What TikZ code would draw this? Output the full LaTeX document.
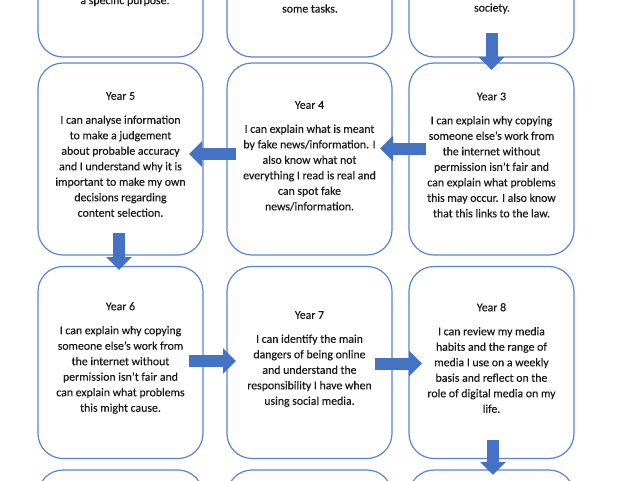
\documentclass[tikz,border=0pt]{standalone}
\usepackage{fontspec}
\setmainfont{Carlito}[FakeBold=0.3]
\usetikzlibrary{arrows.meta}
\definecolor{boxblue}{HTML}{5B84D6}
\definecolor{arrblue}{HTML}{4472C4}
\definecolor{txt}{HTML}{1A1A1A}
\begin{document}
\begin{tikzpicture}[x=1pt,y=-1pt,
  card/.style={draw=boxblue, line width=1.2pt, rounded corners=25pt, fill=white,
    minimum width=165pt, minimum height=192pt, inner sep=0pt},
  words/.style={text=txt, align=center, inner sep=0pt,
    font=\fontsize{11.8}{15.5}\selectfont},
  barrow/.style={draw=arrblue, line width=12pt,
    -{Triangle[length=13pt,width=25pt]}}]
\clip (0,0) rectangle (640,480);
\fill[white] (0,0) rectangle (640,480);
% row 1 (cut off)
\node[card] (y0) at (120.5,-39) {};
\node[card] (y1) at (309.5,-39) {};
\node[card] (y2) at (491.5,-39) {};
\node[words] (t0) at (125,1) {a specific purpose.};
\node[words] (t1) at (310,8.5) {some tasks.};
\node[words] (t2) at (492,8.5) {society.};
% row 2
\node[card] (y5) at (120.5,159) {};
\node[card] (y4) at (309.5,159) {};
\node[card] (y3) at (491.5,159) {};
\node[words] (t5) at (120.5,154.5) {Year 5\\[8.5pt]
  I can analyse information\\ to make a judgement\\ about probable accuracy\\
  and I understand why it is\\ important to make my own\\ decisions regarding\\
  content selection.};
\node[words] (t4) at (309.5,156) {Year 4\\[8.5pt]
  I can explain what is meant\\ by fake news/information. I\\ also know what not\\
  everything I read is real and\\ can spot fake\\ news/information.};
\node[words] (t3) at (491.5,155) {Year 3\\[8.5pt]
  I can explain why copying\\ someone else’s work from\\ the internet without\\
  permission isn’t fair and\\ can explain what problems\\ this may occur. I also know\\
  that this links to the law.};
% row 3
\node[card] (y6) at (120.5,362.5) {};
\node[card] (y7) at (309.5,362.5) {};
\node[card] (y8) at (491.5,362.5) {};
\node[words] (t6) at (120.5,358) {Year 6\\[8.5pt]
  I can explain why copying\\ someone else’s work from\\ the internet without\\
  permission isn’t fair and\\ can explain what problems\\ this might cause.};
\node[words] (t7) at (309.5,359) {Year 7\\[8.5pt]
  I can identify the main\\ dangers of being online\\ and understand the\\
  responsibility I have when\\ using social media.};
\node[words] (t8) at (491.5,358) {Year 8\\[8.5pt]
  I can review my media\\ habits and the range of\\ media I use on a weekly\\
  basis and reflect on the\\ role of digital media on my\\ life.};
% row 4 (cut off)
\node[card] (y9) at (120.5,566) {};
\node[card] (y10) at (309.5,566) {};
\node[card] (y11) at (491.5,566) {};
% arrows
\coordinate (a1s) at (491.5,33);  \coordinate (a1e) at (491.5,70);
\coordinate (a2s) at (426,148.5); \coordinate (a2e) at (380,148.5);
\coordinate (a3s) at (236,154);   \coordinate (a3e) at (189,154);
\coordinate (a4s) at (119,233);   \coordinate (a4e) at (119,270);
\coordinate (a5s) at (189,361);   \coordinate (a5e) at (236,361);
\coordinate (a6s) at (375,363.5); \coordinate (a6e) at (422,363.5);
\coordinate (a7s) at (493,440);   \coordinate (a7e) at (493,475);
\draw[barrow] (a1s) -- (a1e);
\draw[barrow] (a2s) -- (a2e);
\draw[barrow] (a3s) -- (a3e);
\draw[barrow] (a4s) -- (a4e);
\draw[barrow] (a5s) -- (a5e);
\draw[barrow] (a6s) -- (a6e);
\draw[barrow] (a7s) -- (a7e);
\end{tikzpicture}
\end{document}
